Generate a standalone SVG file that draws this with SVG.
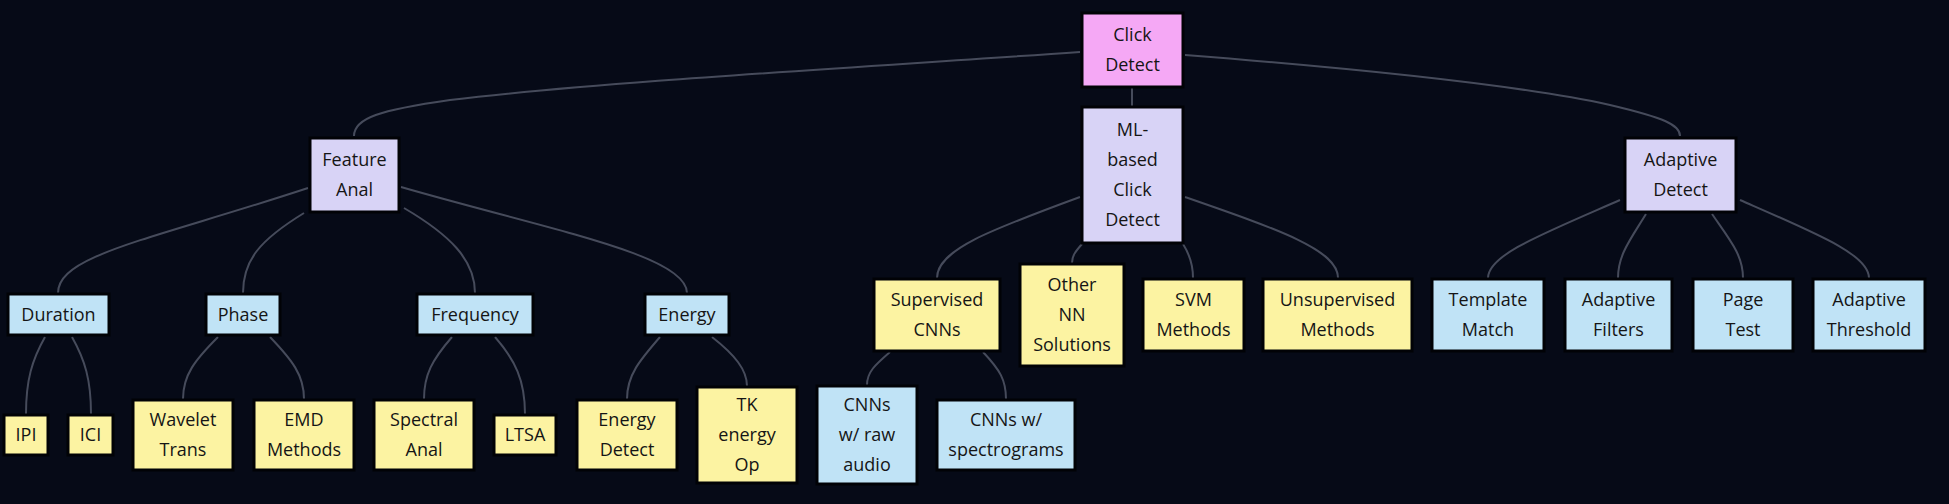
<svg xmlns="http://www.w3.org/2000/svg" width="1949" height="504" viewBox="0 0 1949 504">
<style>
.bg{fill:#060a17}
.n rect{stroke:#010206;stroke-width:3}
.pink{fill:#f5a8f5}
.lav{fill:#d8d3f6}
.blue{fill:#c0e3f6}
.yel{fill:#fcf3a2}
text{font-family:"Open Sans","DejaVu Sans",sans-serif;font-size:18px;fill:#151515;text-anchor:middle}
.e path{fill:none;stroke:#464b5b;stroke-width:2}
</style>
<rect class="bg" x="0" y="0" width="1949" height="504"/>
<g class="e" id="connectors">
<path d="M1080,52 C850,68 600,82 450,100 C380,110 354,118 354,136"/>
<path d="M1185,55 C1350,68 1520,85 1610,105 C1665,118 1680,125 1680,136"/>
<path d="M1132,88 L1132,106"/>
<path d="M308,188 C150,240 58,255 58,293"/>
<path d="M304,213 C260,240 243,260 243,293"/>
<path d="M404,208 C450,235 475,260 475,293"/>
<path d="M401,187 C550,230 687,255 687,293"/>
<path d="M1080,197 C990,230 937,250 937,278"/>
<path d="M1082,244 C1075,252 1072,256 1072,263"/>
<path d="M1183,244 C1190,255 1193,265 1193,278"/>
<path d="M1185,197 C1280,230 1338,250 1338,278"/>
<path d="M1620,200 C1540,235 1488,255 1488,278"/>
<path d="M1646,214 C1630,240 1618,255 1618,278"/>
<path d="M1712,214 C1730,240 1743,255 1743,278"/>
<path d="M1740,200 C1820,235 1869,255 1869,278"/>
<path d="M45,337 C32,360 26,380 26,414"/>
<path d="M72,337 C85,360 91,380 91,414"/>
<path d="M218,337 C195,360 183,375 183,399"/>
<path d="M270,337 C292,360 304,375 304,399"/>
<path d="M452,337 C432,360 424,375 424,399"/>
<path d="M495,337 C515,360 525,380 525,414"/>
<path d="M660,337 C640,360 627,375 627,399"/>
<path d="M712,337 C735,355 747,370 747,386"/>
<path d="M890,352 C875,365 867,372 867,385"/>
<path d="M983,352 C1000,370 1006,380 1006,399"/>
</g>
<g class="n" id="click"><rect class="pink" x="1082" y="13" width="101" height="74"/><text x="1132.5" y="41">Click</text><text x="1132.5" y="71">Detect</text></g>
<g class="n" id="feat"><rect class="lav" x="310" y="138" width="89" height="74"/><text x="354.5" y="166">Feature</text><text x="354.5" y="196">Anal</text></g>
<g class="n" id="ml"><rect class="lav" x="1082" y="107" width="101" height="136"/><text x="1132.5" y="136">ML-</text><text x="1132.5" y="166">based</text><text x="1132.5" y="196">Click</text><text x="1132.5" y="226">Detect</text></g>
<g class="n" id="adapt"><rect class="lav" x="1625" y="138" width="111" height="74"/><text x="1680.5" y="166">Adaptive</text><text x="1680.5" y="196">Detect</text></g>
<g class="n" id="dur"><rect class="blue" x="8" y="294" width="101" height="41"/><text x="58.5" y="321">Duration</text></g>
<g class="n" id="phase"><rect class="blue" x="206" y="294" width="74" height="41"/><text x="243" y="321">Phase</text></g>
<g class="n" id="freq"><rect class="blue" x="417" y="294" width="116" height="41"/><text x="475" y="321">Frequency</text></g>
<g class="n" id="energy"><rect class="blue" x="645" y="294" width="84" height="41"/><text x="687" y="321">Energy</text></g>
<g class="n" id="sup"><rect class="yel" x="874" y="279" width="126" height="72"/><text x="937" y="306">Supervised</text><text x="937" y="336">CNNs</text></g>
<g class="n" id="other"><rect class="yel" x="1020" y="264" width="104" height="102"/><text x="1072" y="291">Other</text><text x="1072" y="321">NN</text><text x="1072" y="351">Solutions</text></g>
<g class="n" id="svm"><rect class="yel" x="1143" y="279" width="101" height="72"/><text x="1193.5" y="306">SVM</text><text x="1193.5" y="336">Methods</text></g>
<g class="n" id="unsup"><rect class="yel" x="1263" y="279" width="149" height="72"/><text x="1337.5" y="306">Unsupervised</text><text x="1337.5" y="336">Methods</text></g>
<g class="n" id="tmpl"><rect class="blue" x="1432" y="279" width="112" height="72"/><text x="1488" y="306">Template</text><text x="1488" y="336">Match</text></g>
<g class="n" id="afilt"><rect class="blue" x="1565" y="279" width="107" height="72"/><text x="1618.5" y="306">Adaptive</text><text x="1618.5" y="336">Filters</text></g>
<g class="n" id="page"><rect class="blue" x="1693" y="279" width="100" height="72"/><text x="1743" y="306">Page</text><text x="1743" y="336">Test</text></g>
<g class="n" id="athr"><rect class="blue" x="1813" y="279" width="112" height="72"/><text x="1869" y="306">Adaptive</text><text x="1869" y="336">Threshold</text></g>
<g class="n" id="ipi"><rect class="yel" x="4" y="415" width="44" height="40"/><text x="26" y="441">IPI</text></g>
<g class="n" id="ici"><rect class="yel" x="68" y="415" width="45" height="40"/><text x="90.5" y="441">ICI</text></g>
<g class="n" id="wav"><rect class="yel" x="133" y="400" width="100" height="70"/><text x="183" y="426">Wavelet</text><text x="183" y="456">Trans</text></g>
<g class="n" id="emd"><rect class="yel" x="254" y="400" width="100" height="70"/><text x="304" y="426">EMD</text><text x="304" y="456">Methods</text></g>
<g class="n" id="spec"><rect class="yel" x="374" y="400" width="100" height="70"/><text x="424" y="426">Spectral</text><text x="424" y="456">Anal</text></g>
<g class="n" id="ltsa"><rect class="yel" x="494" y="415" width="62" height="40"/><text x="525" y="441">LTSA</text></g>
<g class="n" id="edet"><rect class="yel" x="577" y="400" width="100" height="70"/><text x="627" y="426">Energy</text><text x="627" y="456">Detect</text></g>
<g class="n" id="tk"><rect class="yel" x="697" y="387" width="100" height="96"/><text x="747" y="411">TK</text><text x="747" y="441">energy</text><text x="747" y="471">Op</text></g>
<g class="n" id="raw"><rect class="blue" x="817" y="386" width="100" height="98"/><text x="867" y="411">CNNs</text><text x="867" y="441">w/ raw</text><text x="867" y="471">audio</text></g>
<g class="n" id="spg"><rect class="blue" x="937" y="400" width="138" height="70"/><text x="1006" y="426">CNNs w/</text><text x="1006" y="456">spectrograms</text></g>
</svg>
